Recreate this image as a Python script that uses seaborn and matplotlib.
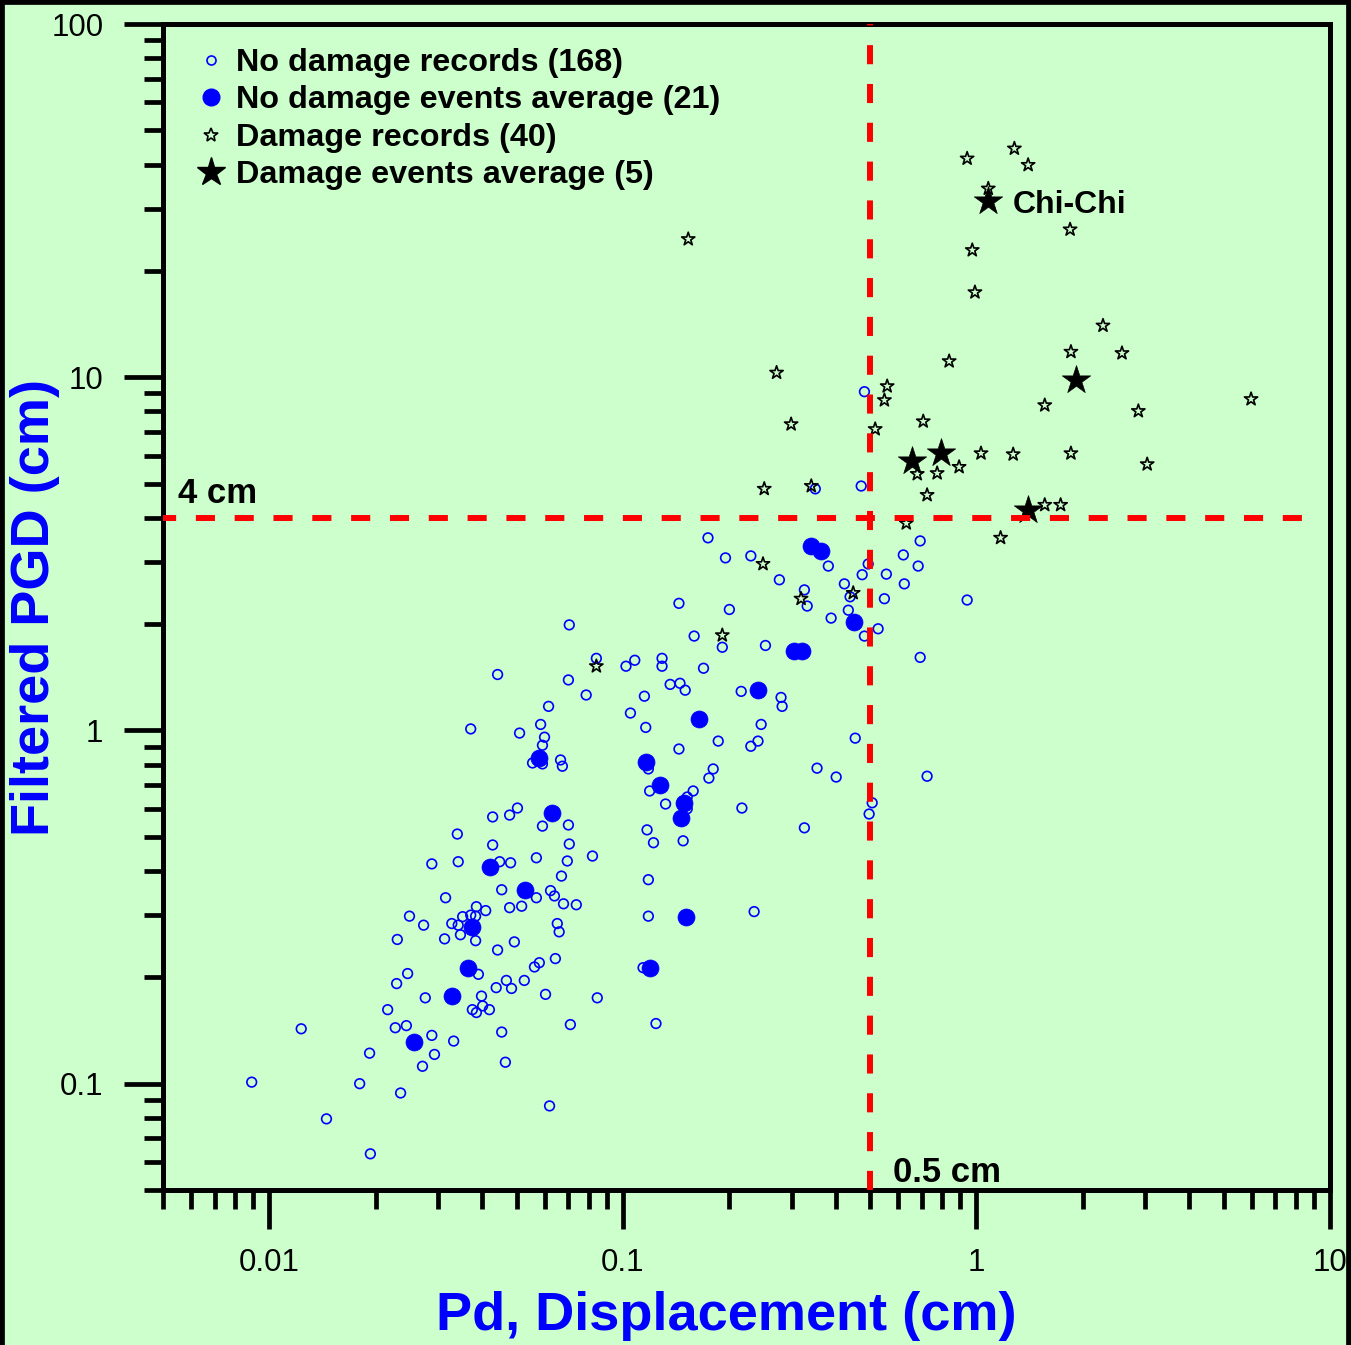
import numpy as np
import pandas as pd
import matplotlib
matplotlib.use("Agg")
import matplotlib.pyplot as plt
import seaborn as sns
from matplotlib.lines import Line2D
from matplotlib.ticker import FixedLocator, FixedFormatter, LogLocator, NullFormatter

# ---------------- data ----------------
nd_rec_pd = [0.0705, 0.0442, 0.0701, 0.0616, 0.0371, 0.0510, 0.0585, 0.0600, 0.0592, 0.0555,
             0.0592, 0.0666, 0.0674, 0.0503, 0.0478, 0.0428, 0.0592, 0.0701, 0.0340, 0.0428,
             0.0705, 0.0288, 0.0342, 0.0448, 0.0481, 0.0569, 0.0696, 0.0670, 0.0454, 0.0624,
             0.0315, 0.0640, 0.0679, 0.0569, 0.0517, 0.0478, 0.0249, 0.0273, 0.0385, 0.0409,
             0.0352, 0.0371, 0.0383, 0.0328, 0.0342, 0.0313, 0.0347, 0.0383, 0.0230, 0.0442,
             0.0493, 0.0652, 0.0660, 0.0644, 0.0562, 0.0580, 0.0390, 0.0246, 0.0229, 0.0468,
             0.0438, 0.0484, 0.0526, 0.0604, 0.0276, 0.0398, 0.0401, 0.0375, 0.0385, 0.0419,
             0.0216, 0.0227, 0.0244, 0.0288, 0.0332, 0.0454, 0.0710, 0.0123, 0.0192, 0.0293,
             0.0271, 0.0465, 0.00891, 0.0180, 0.0235, 0.0620, 0.0145, 0.0193,
             0.0841, 0.102, 0.108, 0.129, 0.129, 0.169, 0.191, 0.253, 0.0787, 0.115,
             0.136, 0.145, 0.150, 0.216, 0.280, 0.282, 0.105, 0.116, 0.246, 0.186,
             0.230, 0.241, 0.144, 0.454, 0.118, 0.180, 0.175, 0.354, 0.401, 0.119,
             0.158, 0.152, 0.132, 0.152, 0.217, 0.507, 0.497, 0.117, 0.122, 0.148,
             0.326, 0.0820, 0.118, 0.0738, 0.118, 0.235, 0.114, 0.0846, 0.124,
             0.174, 0.195, 0.230, 0.381, 0.277, 0.423, 0.475, 0.494, 0.556, 0.621,
             0.693, 0.684, 0.625, 0.326, 0.332, 0.439, 0.549, 0.434, 0.388, 0.527,
             0.482, 0.144, 0.200, 0.159, 0.693, 0.350, 0.472, 0.482, 0.725, 0.941]
nd_rec_pgd = [1.99, 1.44, 1.39, 1.17, 1.01, 0.983, 1.04, 0.957, 0.908, 0.809,
              0.804, 0.825, 0.792, 0.603, 0.576, 0.569, 0.536, 0.540, 0.509, 0.474,
              0.477, 0.419, 0.425, 0.425, 0.422, 0.436, 0.427, 0.387, 0.354, 0.352,
              0.336, 0.340, 0.323, 0.336, 0.318, 0.315, 0.298, 0.281, 0.317, 0.309,
              0.297, 0.300, 0.298, 0.284, 0.281, 0.257, 0.264, 0.254, 0.256, 0.239,
              0.252, 0.284, 0.269, 0.226, 0.214, 0.220, 0.204, 0.205, 0.192, 0.196,
              0.187, 0.186, 0.196, 0.179, 0.175, 0.177, 0.166, 0.162, 0.159, 0.162,
              0.162, 0.144, 0.146, 0.137, 0.132, 0.140, 0.147, 0.143, 0.122, 0.121,
              0.112, 0.115, 0.101, 0.100, 0.0941, 0.0865, 0.0795, 0.0633,
              1.60, 1.52, 1.58, 1.60, 1.52, 1.50, 1.72, 1.74, 1.26, 1.25,
              1.35, 1.36, 1.30, 1.29, 1.24, 1.17, 1.12, 1.02, 1.04, 0.933,
              0.902, 0.933, 0.886, 0.951, 0.778, 0.778, 0.733, 0.782, 0.738, 0.674,
              0.674, 0.648, 0.619, 0.600, 0.603, 0.624, 0.580, 0.523, 0.481, 0.487,
              0.530, 0.441, 0.378, 0.321, 0.298, 0.307, 0.213, 0.175, 0.148,
              3.51, 3.08, 3.12, 2.92, 2.67, 2.60, 2.76, 2.96, 2.77, 3.14,
              3.44, 2.92, 2.60, 2.50, 2.25, 2.39, 2.36, 2.19, 2.08, 1.94,
              1.85, 2.29, 2.20, 1.85, 1.61, 4.83, 4.92, 9.10, 0.742, 2.34]

nd_avg_pd = [0.0580, 0.0632, 0.0422, 0.0530, 0.0373, 0.0365, 0.0328, 0.0257, 0.341, 0.363,
             0.305, 0.322, 0.241, 0.164, 0.116, 0.127, 0.149, 0.146, 0.151, 0.119, 0.451]
nd_avg_pgd = [0.835, 0.584, 0.411, 0.354, 0.278, 0.213, 0.177, 0.131, 3.33, 3.22,
              1.68, 1.68, 1.30, 1.08, 0.814, 0.701, 0.624, 0.565, 0.297, 0.212, 2.03]

d_rec_pd = [0.153, 0.272, 0.299, 0.251, 0.341, 0.249, 0.191, 0.0841, 0.319, 0.448,
            0.941, 1.28, 1.40, 1.08, 1.84, 0.973, 0.99, 2.28, 1.85, 2.58,
            0.837, 0.559, 0.549, 5.98, 1.56, 2.87, 0.707, 0.517, 1.03, 1.27,
            1.85, 0.893, 0.774, 0.680, 3.04, 0.725, 1.56, 1.73, 0.633, 1.17]
d_rec_pgd = [24.6, 10.3, 7.36, 4.83, 4.92, 2.96, 1.86, 1.52, 2.36, 2.45,
             41.6, 44.4, 39.9, 34.2, 26.2, 22.9, 17.4, 14.0, 11.8, 11.7,
             11.1, 9.43, 8.61, 8.67, 8.33, 8.02, 7.50, 7.13, 6.09, 6.05,
             6.09, 5.57, 5.35, 5.32, 5.67, 4.64, 4.35, 4.35, 3.86, 3.51]

d_avg_pd = [1.08, 1.91, 0.657, 0.793, 1.40]
d_avg_pgd = [31.5, 9.81, 5.79, 6.09, 4.21]

legend_labels = ["No damage records (168)", "No damage events average (21)",
                 "Damage records (40)", "Damage events average (5)"]
x_ticks = [0.01, 0.1, 1, 10]
x_ticklabels = ["0.01", "0.1", "1", "10"]
y_ticks = [0.1, 1, 10, 100]
y_ticklabels = ["0.1", "1", "10", "100"]
pd_threshold = 0.5
pgd_threshold = 4

# ---------------- styling ----------------
sns.set_theme(style="ticks")
plt.rcParams["font.family"] = ["Liberation Sans", "DejaVu Sans"]

BG = "#CCFFCC"
BLUE = "#0000FF"
W, H = 1351, 1345
fig = plt.figure(figsize=(W / 100, H / 100), dpi=100, facecolor=BG)
ax = fig.add_axes([163 / W, 1 - 1190 / H, 1167 / W, 1166 / H])
ax.set_facecolor(BG)

df_nr = pd.DataFrame({"pd": nd_rec_pd, "pgd": nd_rec_pgd})
df_na = pd.DataFrame({"pd": nd_avg_pd, "pgd": nd_avg_pgd})
df_dr = pd.DataFrame({"pd": d_rec_pd, "pgd": d_rec_pgd})
df_da = pd.DataFrame({"pd": d_avg_pd, "pgd": d_avg_pgd})

sns.scatterplot(data=df_nr, x="pd", y="pgd", ax=ax, marker="o", s=48,
                facecolor="none", edgecolor=BLUE, linewidth=1.2, zorder=3)
sns.scatterplot(data=df_na, x="pd", y="pgd", ax=ax, marker="o", s=150,
                facecolor=BLUE, edgecolor=BLUE, linewidth=0.5, zorder=4)
sns.scatterplot(data=df_dr, x="pd", y="pgd", ax=ax, marker="*", s=100,
                facecolor="none", edgecolor="black", linewidth=1.2, zorder=5)
sns.scatterplot(data=df_da, x="pd", y="pgd", ax=ax, marker="*", s=460,
                facecolor="black", edgecolor="black", linewidth=0.5, zorder=6)

ax.set_xscale("log")
ax.set_yscale("log")
ax.set_xlim(0.005, 10)
ax.set_ylim(0.05, 100)

# threshold lines
dash = (0, (3.2, 3.3))
ax.axvline(pd_threshold, color="red", lw=4.3, ls=dash, zorder=8)
ax.axhline(pgd_threshold, xmin=0.0, xmax=0.987, color="red", lw=4.3, ls=(1.0, (3.2, 3.3)), zorder=8)

# ticks
ax.xaxis.set_major_locator(FixedLocator(x_ticks))
ax.xaxis.set_major_formatter(FixedFormatter(x_ticklabels))
ax.yaxis.set_major_locator(FixedLocator(y_ticks))
ax.yaxis.set_major_formatter(FixedFormatter(y_ticklabels))
ax.xaxis.set_minor_locator(LogLocator(base=10, subs=np.arange(2, 10), numticks=30))
ax.yaxis.set_minor_locator(LogLocator(base=10, subs=np.arange(2, 10), numticks=30))
ax.xaxis.set_minor_formatter(NullFormatter())
ax.yaxis.set_minor_formatter(NullFormatter())
ax.tick_params(which="both", direction="out", width=3.4, color="black",
               top=False, right=False, labelcolor="black")
ax.tick_params(which="major", length=28, labelsize=22.5)
ax.tick_params(which="minor", length=14)
ax.tick_params(axis="y", which="major", pad=15)
ax.tick_params(axis="x", which="major", pad=14)
for sp in ax.spines.values():
    sp.set_linewidth(3.6)
    sp.set_color("black")
    sp.set_visible(True)

# axis labels
ax.set_xlabel("Pd, Displacement (cm)", fontsize=39, fontweight="bold", color=BLUE, va="center")
ax.xaxis.set_label_coords(0.483, -0.108)
ax.set_ylabel("Filtered PGD (cm)", fontsize=39, fontweight="bold", color=BLUE, va="center")
ax.yaxis.set_label_coords(-0.1097, 0.5)

# annotations
ax.text(0.0129, 0.589, "4 cm", transform=ax.transAxes, fontsize=25, fontweight="bold",
        color="black", ha="left", va="baseline", zorder=9)
ax.text(0.6255, 0.0069, "0.5 cm", transform=ax.transAxes, fontsize=25, fontweight="bold",
        color="black", ha="left", va="baseline", zorder=9)
ax.text(0.7284, 0.838, "Chi-Chi", transform=ax.transAxes, fontsize=23, fontweight="bold",
        color="black", ha="left", va="baseline", zorder=9)

# legend
handles = [
    Line2D([0], [0], marker="o", ls="none", ms=6.5, mfc="none", mec=BLUE, mew=1.2),
    Line2D([0], [0], marker="o", ms=12, ls="none", mfc=BLUE, mec=BLUE),
    Line2D([0], [0], marker="*", ms=10, ls="none", mfc="none", mec="black", mew=1.2),
    Line2D([0], [0], marker="*", ms=21, ls="none", mfc="black", mec="black"),
]
leg = ax.legend(handles, legend_labels, loc="upper left", bbox_to_anchor=(0.0274, 0.9794),
                frameon=False, prop={"weight": "bold", "size": 23.3}, handlelength=1.0,
                handletextpad=0.28, labelspacing=0.23, borderpad=0, borderaxespad=0)
for t in leg.get_texts():
    t.set_color("black")

# dark frame of the picture (left, top, right)
for xs, ys in [([0, 0], [0, 1]), ([0, 1], [1, 1]), ([1, 1], [0, 1])]:
    fig.add_artist(Line2D(xs, ys, transform=fig.transFigure, color="black", lw=7))

fig.savefig("out.png", dpi=100, facecolor=BG)
